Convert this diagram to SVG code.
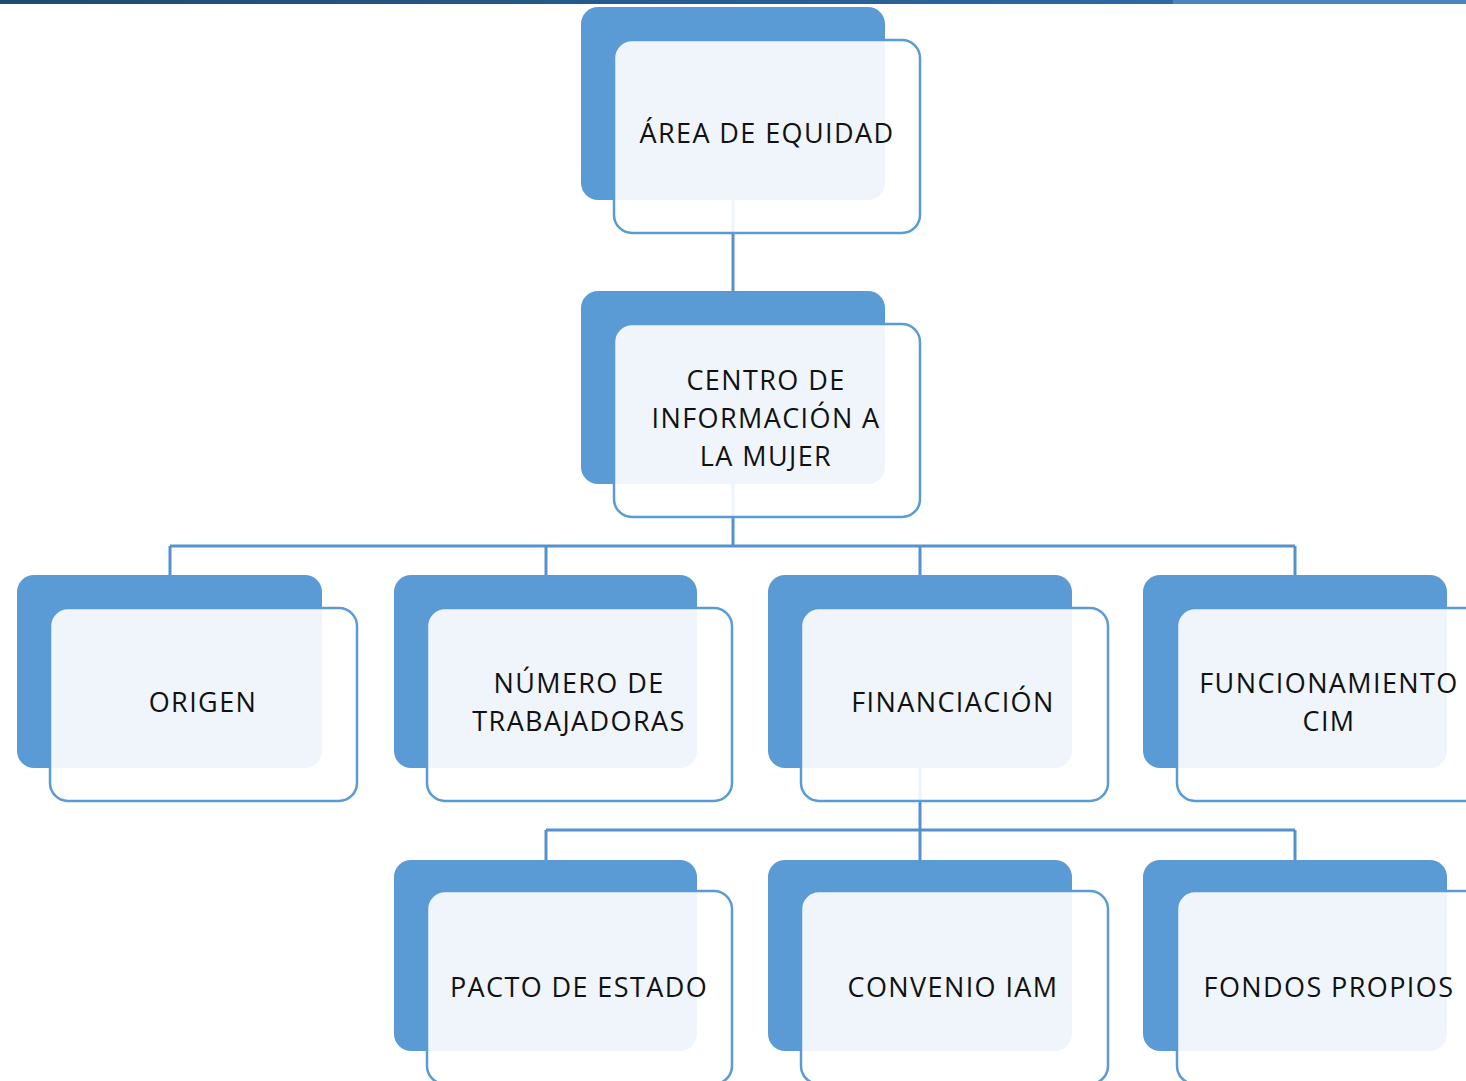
<svg xmlns="http://www.w3.org/2000/svg" width="1466" height="1081" viewBox="0 0 1466 1081">
<defs>
<linearGradient id="bar" x1="0" y1="0" x2="1" y2="0">
<stop offset="0" stop-color="#1F4A72"/>
<stop offset="1" stop-color="#2C6AA6"/>
</linearGradient>
</defs>
<style>
.back{fill:#5B9BD5;}
.front{fill:#FFFFFF;fill-opacity:0.9;stroke:#5B9BD5;stroke-width:2.5;}
.conn{fill:none;stroke:#5591CD;stroke-width:3;}
.lbl{font-family:"Open Sans","Noto Sans",sans-serif;font-size:27px;letter-spacing:1.4px;fill:#111111;text-anchor:middle;}
</style>
<rect x="0" y="0" width="1466" height="1081" fill="#FFFFFF"/>
<rect x="0" y="0" width="1173" height="4" fill="url(#bar)"/>
<rect x="1173" y="0" width="293" height="4" fill="#4A86C0"/>
<g id="connectors">
<path class="conn" d="M733 200V291"/>
<path class="conn" d="M733 484V546M170 546H1295M170 546V575M546 546V575M920 546V575M1295 546V575"/>
<path class="conn" d="M920 768V830M546 830H1295M546 830V860M920 830V860M1295 830V860"/>
</g>
<g id="n-area">
<rect class="back" x="581" y="7" width="304" height="193" rx="17"/>
<rect class="front" x="614" y="40" width="306" height="193" rx="18"/>
<text class="lbl" x="767" y="143">ÁREA DE EQUIDAD</text>
</g>
<g id="n-centro">
<rect class="back" x="581" y="291" width="304" height="193" rx="17"/>
<rect class="front" x="614" y="324" width="306" height="193" rx="18"/>
<text class="lbl" x="766" y="390">CENTRO DE</text>
<text class="lbl" x="766" y="428">INFORMACIÓN A</text>
<text class="lbl" x="766" y="466">LA MUJER</text>
</g>
<g id="n-origen">
<rect class="back" x="17" y="575" width="305" height="193" rx="17"/>
<rect class="front" x="50" y="608" width="307" height="193" rx="18"/>
<text class="lbl" x="203" y="712">ORIGEN</text>
</g>
<g id="n-numero">
<rect class="back" x="394" y="575" width="303" height="193" rx="17"/>
<rect class="front" x="427" y="608" width="305" height="193" rx="18"/>
<text class="lbl" x="579" y="693">NÚMERO DE</text>
<text class="lbl" x="579" y="731">TRABAJADORAS</text>
</g>
<g id="n-financiacion">
<rect class="back" x="768" y="575" width="304" height="193" rx="17"/>
<rect class="front" x="801" y="608" width="307" height="193" rx="18"/>
<text class="lbl" x="953" y="712">FINANCIACIÓN</text>
</g>
<g id="n-funcionamiento">
<rect class="back" x="1143" y="575" width="304" height="193" rx="17"/>
<rect class="front" x="1177" y="608" width="307" height="193" rx="18"/>
<text class="lbl" x="1329" y="693">FUNCIONAMIENTO</text>
<text class="lbl" x="1329" y="731">CIM</text>
</g>
<g id="n-pacto">
<rect class="back" x="394" y="860" width="303" height="191" rx="17"/>
<rect class="front" x="427" y="891" width="305" height="193" rx="18"/>
<text class="lbl" x="579" y="997">PACTO DE ESTADO</text>
</g>
<g id="n-convenio">
<rect class="back" x="768" y="860" width="304" height="191" rx="17"/>
<rect class="front" x="801" y="891" width="307" height="193" rx="18"/>
<text class="lbl" x="953" y="997">CONVENIO IAM</text>
</g>
<g id="n-fondos">
<rect class="back" x="1143" y="860" width="304" height="191" rx="17"/>
<rect class="front" x="1177" y="891" width="307" height="193" rx="18"/>
<text class="lbl" x="1329" y="997">FONDOS PROPIOS</text>
</g>
</svg>
